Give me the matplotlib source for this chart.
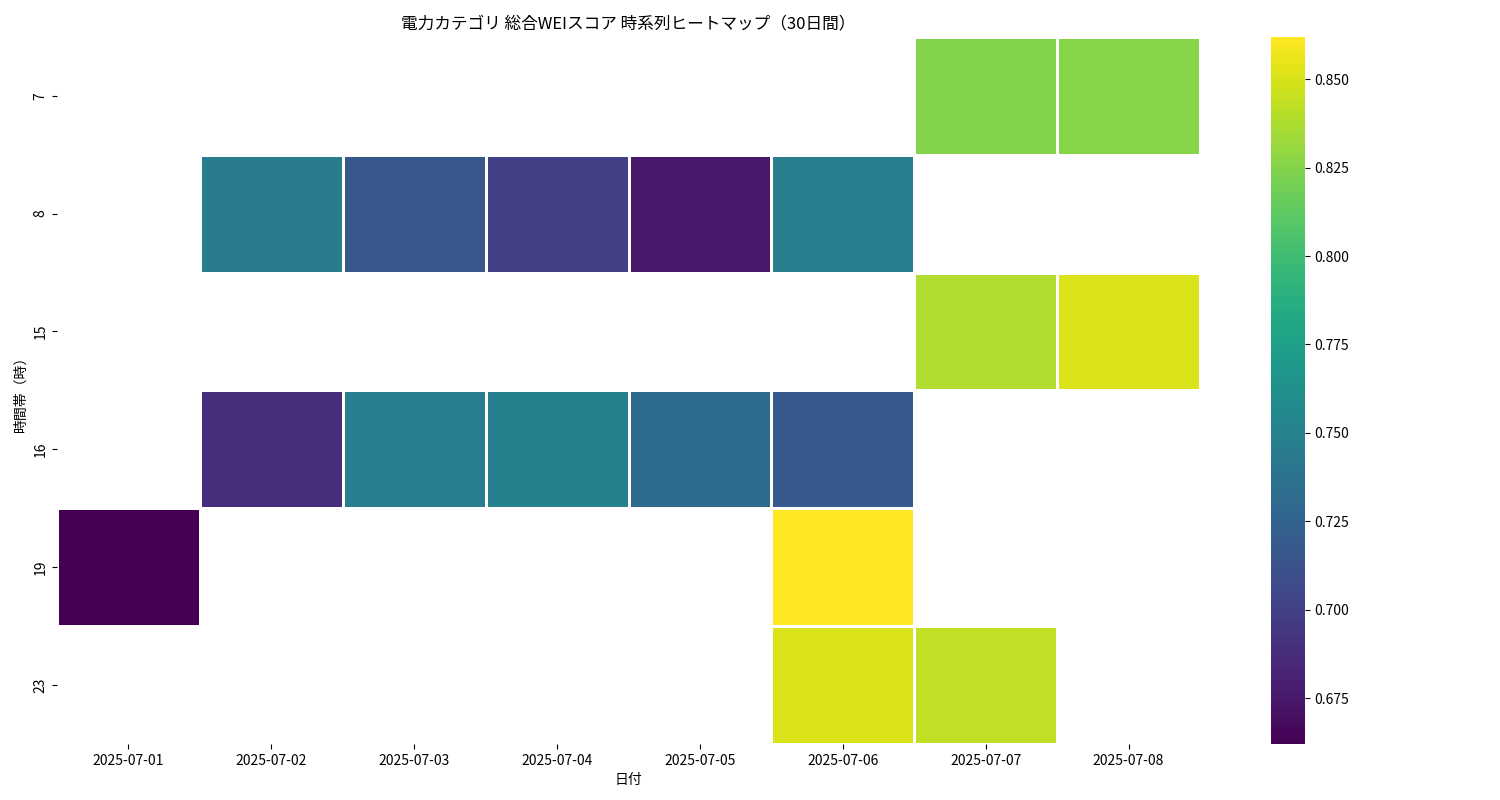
import numpy as np
import matplotlib
matplotlib.use("Agg")
import matplotlib.pyplot as plt
plt.rcParams["font.family"] = ["Noto Sans CJK JP", "DejaVu Sans"]

dates = ["2025-07-01","2025-07-02","2025-07-03","2025-07-04","2025-07-05","2025-07-06","2025-07-07","2025-07-08"]
hours = ["7","8","15","16","19","23"]
nan = np.nan
row_7  = [nan, nan, nan, nan, nan, nan, 0.825, 0.826]
row_8  = [nan, 0.745, 0.716, 0.700, 0.675, 0.746, nan, nan]
row_15 = [nan, nan, nan, nan, nan, nan, 0.838, 0.851]
row_16 = [nan, 0.688, 0.746, 0.748, 0.731, 0.717, nan, nan]
row_19 = [0.662, nan, nan, nan, nan, 0.862, nan, nan]
row_23 = [nan, nan, nan, nan, nan, 0.851, 0.843, nan]

data = np.ma.masked_invalid(np.array([row_7, row_8, row_15, row_16, row_19, row_23]))

fig = plt.figure(figsize=(15, 8), dpi=100)
ax = fig.add_axes([0.038, 0.07, 0.762, 0.884])
cax = fig.add_axes([0.847, 0.07, 0.023, 0.884])
mesh = ax.pcolormesh(np.arange(len(dates)+1), np.arange(len(hours)+1), data,
                     cmap="viridis", vmin=np.nanmin(data), vmax=np.nanmax(data),
                     edgecolor="white", linewidth=0.8)
ax.set_xlim(0, len(dates)); ax.set_ylim(len(hours), 0)
ax.set_xticks(np.arange(len(dates))+0.5); ax.set_xticklabels(dates)
ax.set_yticks(np.arange(len(hours))+0.5); ax.set_yticklabels(hours, rotation=90, va="center")
for s in ax.spines.values(): s.set_visible(False)
ax.set_xlabel("日付"); ax.set_ylabel("時間帯（時）")
ax.set_title("電力カテゴリ 総合WEIスコア 時系列ヒートマップ（30日間）", fontsize=12)
cb = fig.colorbar(mesh, cax=cax)
cb.set_ticks([0.675,0.700,0.725,0.750,0.775,0.800,0.825,0.850])
cb.outline.set_visible(False)
fig.savefig("out.png")
